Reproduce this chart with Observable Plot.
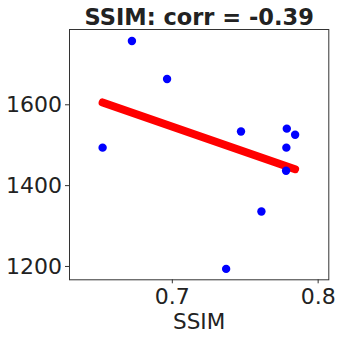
<!DOCTYPE html>
<html>
<head>
<meta charset="utf-8">
<script src="https://cdn.jsdelivr.net/npm/d3@7"></script>
<script src="https://cdn.jsdelivr.net/npm/@observablehq/plot@0.6"></script>
<style>
  html, body { margin: 0; padding: 0; background: #fff; }
  svg { display: block; }
</style>
</head>
<body>
<div id="chart"></div>
<script>
const ssim  = [0.6522, 0.6723, 0.6964, 0.7471, 0.7785, 0.7842, 0.7782, 0.7780, 0.7611, 0.7369];
const value = [1494, 1758, 1664, 1534, 1541, 1526, 1494, 1437, 1336, 1194];
const xTicks = [0.7, 0.8];
const yTicks = [1200, 1400, 1600];
const titleText = "SSIM: corr = -0.39";
const xLabel = "SSIM";

const data = ssim.map((s, i) => ({ssim: s, value: value[i]}));
const font = "DejaVu Sans";

const chart = Plot.plot({
  width: 343,
  height: 340,
  marginLeft: 69,
  marginRight: 14.7,
  marginTop: 29,
  marginBottom: 60.7,
  style: {fontFamily: font, color: "#222", background: "#fff"},
  x: {domain: [0.6295, 0.8073]},
  y: {domain: [1167, 1786.3]},
  marks: [
    Plot.axisX({ticks: xTicks, tickFormat: d => d.toFixed(1), tickSize: 4, tickPadding: 5, fontSize: 22, label: null, stroke: "#333"}),
    Plot.axisY({ticks: yTicks, tickFormat: d => String(d), tickSize: 4, tickPadding: 3.5, fontSize: 22, label: null, stroke: "#333"}),
    Plot.frame({stroke: "#333"}),
    Plot.linearRegressionY(data, {x: "ssim", y: "value", ci: 0, stroke: "red", strokeWidth: 8, strokeLinecap: "round"}),
    Plot.dot(data, {x: "ssim", y: "value", r: 4.2, fill: "blue", stroke: null}),
    Plot.text([titleText], {frameAnchor: "top", lineAnchor: "bottom", dy: -5, text: d => d, fontSize: 22.5, fontWeight: "bold", fill: "#222"}),
    Plot.text([xLabel], {frameAnchor: "bottom", lineAnchor: "top", dy: 33.5, text: d => d, fontSize: 21.5, fill: "#222"})
  ]
});
document.getElementById("chart").appendChild(chart);
</script>
</body>
</html>
